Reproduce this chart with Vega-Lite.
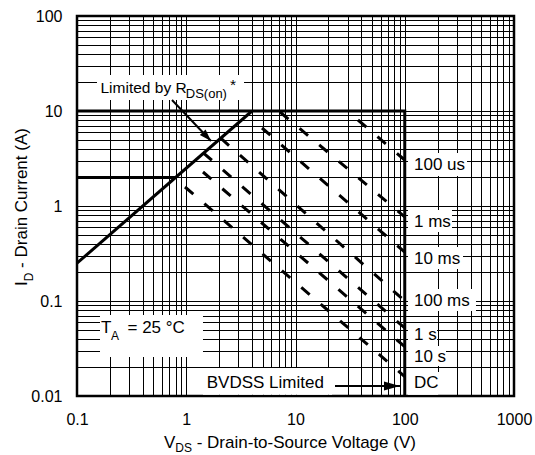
{
  "$schema": "https://vega.github.io/schema/vega-lite/v6.json",
  "width": 437,
  "height": 380,
  "autosize": {"type": "none"},
  "padding": {"left": 77, "top": 16, "right": 21, "bottom": 59},
  "background": "white",
  "config": {
    "font": "Liberation Sans",
    "view": {"stroke": "black", "strokeWidth": 2.5},
    "axis": {"grid": true, "gridColor": "#000000", "gridOpacity": 1, "gridWidth": 1, "domain": false, "ticks": false, "labelFont": "Liberation Sans", "labelFontSize": 16, "labelColor": "#000000", "labelOverlap": false, "labelFlush": false, "labelBound": false}
  },
  "datasets": {
    "boxes": [
      {"x": 0.1524, "x2": 3.379, "y": 13.06, "y2": 23.93},
      {"x": 0.1624, "x2": 1.423, "y": 0.02573, "y2": 0.07121},
      {"x": 1.423, "x2": 21.6, "y": 0.0103, "y2": 0.0197},
      {"x": 107.1, "x2": 371.3, "y": 2.069, "y2": 3.613},
      {"x": 107.1, "x2": 270.7, "y": 0.5326, "y2": 0.9078},
      {"x": 107.1, "x2": 341.4, "y": 0.2172, "y2": 0.3703},
      {"x": 107.1, "x2": 448.8, "y": 0.07847, "y2": 0.1337},
      {"x": 107.1, "x2": 197.3, "y": 0.03441, "y2": 0.05727},
      {"x": 107.1, "x2": 238.5, "y": 0.02069, "y2": 0.0336},
      {"x": 107.1, "x2": 205.8, "y": 0.0103, "y2": 0.01789}
    ],
    "bounds": [
      {"seg": "rds", "o": 1, "x": 0.1, "y": 0.25},
      {"seg": "rds", "o": 2, "x": 4, "y": 10},
      {"seg": "lim2", "o": 1, "x": 0.1, "y": 2},
      {"seg": "lim2", "o": 2, "x": 0.8, "y": 2},
      {"seg": "env", "o": 1, "x": 0.1, "y": 10},
      {"seg": "env", "o": 2, "x": 100, "y": 10},
      {"seg": "env", "o": 3, "x": 100, "y": 0.01}
    ],
    "pulses": [
      {"t": "100 us", "o": 1, "x": 37.33, "y": 8.04},
      {"t": "100 us", "o": 2, "x": 100, "y": 3.05},
      {"t": "1 ms", "o": 1, "x": 7.213, "y": 9.76},
      {"t": "1 ms", "o": 2, "x": 100, "y": 0.77},
      {"t": "10 ms", "o": 1, "x": 4.936, "y": 6.624},
      {"t": "10 ms", "o": 2, "x": 100, "y": 0.327},
      {"t": "100 ms", "o": 1, "x": 2.07, "y": 5.17},
      {"t": "100 ms", "o": 2, "x": 100, "y": 0.1},
      {"t": "1 s", "o": 1, "x": 1.44, "y": 3.61},
      {"t": "1 s", "o": 2, "x": 100, "y": 0.052},
      {"t": "10 s", "o": 1, "x": 1.423, "y": 2.28},
      {"t": "10 s", "o": 2, "x": 100, "y": 0.033},
      {"t": "DC", "o": 1, "x": 0.974, "y": 1.585},
      {"t": "DC", "o": 2, "x": 100, "y": 0.016}
    ],
    "arrows": [
      {"a": "rds", "o": 1, "x": 0.7406, "y": 13.06},
      {"a": "rds", "o": 2, "x": 1.685, "y": 4.833},
      {"a": "bv", "o": 1, "x": 22.99, "y": 0.01274},
      {"a": "bv", "o": 2, "x": 90.44, "y": 0.01274}
    ],
    "labels": [
      {"k": "m", "s": "100 us", "x": 121.5, "y": 2.393},
      {"k": "m", "s": "1 ms", "x": 121.5, "y": 0.6054},
      {"k": "m", "s": "10 ms", "x": 121.5, "y": 0.2451},
      {"k": "m", "s": "100 ms", "x": 121.5, "y": 0.08859},
      {"k": "m", "s": "1 s", "x": 121.5, "y": 0.03886},
      {"k": "m", "s": "10 s", "x": 121.5, "y": 0.02297},
      {"k": "m", "s": "DC", "x": 121.5, "y": 0.01205},
      {"k": "m", "s": "BVDSS Limited", "x": 1.539, "y": 0.01205},
      {"k": "m", "s": "T", "x": 0.1658, "y": 0.04571},
      {"k": "m", "s": "= 25 °C", "x": 0.29, "y": 0.04571},
      {"k": "m", "s": "V", "x": 0.6255, "y": 0.002836},
      {"k": "m", "s": "- Drain-to-Source Voltage (V)", "x": 1.2466, "y": 0.002836},
      {"k": "sub", "s": "A", "x": 0.2048, "y": 0.03886},
      {"k": "sub", "s": "DS", "x": 0.794, "y": 0.002573},
      {"k": "lim", "s": "Limited by R", "x": 0.1641, "y": 15.47},
      {"k": "lim", "s": "*", "x": 2.515, "y": 16.5},
      {"k": "limsub", "s": "DS(on)", "x": 0.99, "y": 13.6},
      {"k": "ym", "s": "I", "x": 0.03509, "y": 0.1438},
      {"k": "ym", "s": "- Drain Current (A)", "x": 0.03509, "y": 0.2231},
      {"k": "ysub", "s": "D", "x": 0.03958, "y": 0.1612}
    ]
  },
  "encoding": {
    "x": {
      "field": "x", "type": "quantitative", "title": null,
      "scale": {"type": "log", "domain": [0.1, 1000], "nice": false},
      "axis": {
        "values": [0.1,0.2,0.3,0.4,0.5,0.6,0.7,0.8,0.9,1,2,3,4,5,6,7,8,9,10,20,30,40,50,60,70,80,90,100,200,300,400,500,600,700,800,900,1000],
        "labelPadding": 15,
        "labelExpr": "indexof([0.1,1,10,100,1000], datum.value) >= 0 ? format(datum.value, '~g') : ''"
      }
    },
    "y": {
      "field": "y", "type": "quantitative", "title": null,
      "scale": {"type": "log", "domain": [0.01, 100], "nice": false},
      "axis": {
        "values": [0.01,0.02,0.03,0.04,0.05,0.06,0.07,0.08,0.09,0.1,0.2,0.3,0.4,0.5,0.6,0.7,0.8,0.9,1,2,3,4,5,6,7,8,9,10,20,30,40,50,60,70,80,90,100],
        "labelPadding": 15,
        "labelExpr": "indexof([0.01,0.1,1,10,100], datum.value) >= 0 ? format(datum.value, '~g') : ''"
      }
    }
  },
  "layer": [
    {"data": {"name": "boxes"}, "mark": {"type": "rect", "fill": "white", "strokeWidth": 0}, "encoding": {"x2": {"field": "x2"}, "y2": {"field": "y2"}}},
    {"data": {"name": "bounds"}, "mark": {"type": "line", "color": "black", "strokeWidth": 3, "strokeJoin": "miter", "strokeCap": "butt"}, "encoding": {"detail": {"field": "seg"}, "order": {"field": "o"}}},
    {"data": {"name": "pulses"}, "mark": {"type": "line", "color": "black", "strokeWidth": 3, "strokeDash": [11, 14.6], "strokeCap": "butt"}, "encoding": {"detail": {"field": "t"}, "order": {"field": "o"}}},
    {"data": {"name": "arrows"}, "mark": {"type": "line", "color": "black", "strokeWidth": 2}, "encoding": {"detail": {"field": "a"}, "order": {"field": "o"}}},
    {"data": {"name": "arrows"}, "transform": [{"filter": "datum.a == 'rds' && datum.o == 2"}], "mark": {"type": "point", "shape": "M0,0L-0.33,1L0.33,1Z", "filled": true, "color": "black", "opacity": 1, "size": 576, "angle": 136.4, "strokeWidth": 0}},
    {"data": {"name": "arrows"}, "transform": [{"filter": "datum.a == 'bv' && datum.o == 2"}], "mark": {"type": "point", "shape": "M0,0L-0.28,1L0.28,1Z", "filled": true, "color": "black", "opacity": 1, "size": 1024, "angle": 90, "strokeWidth": 0}},
    {"data": {"name": "labels"}, "transform": [{"filter": "datum.k == 'm'"}], "mark": {"type": "text", "align": "left", "baseline": "alphabetic", "fontSize": 17, "color": "black"}, "encoding": {"text": {"field": "s"}}},
    {"data": {"name": "labels"}, "transform": [{"filter": "datum.k == 'sub'"}], "mark": {"type": "text", "align": "left", "baseline": "alphabetic", "fontSize": 12, "color": "black"}, "encoding": {"text": {"field": "s"}}},
    {"data": {"name": "labels"}, "transform": [{"filter": "datum.k == 'lim'"}], "mark": {"type": "text", "align": "left", "baseline": "alphabetic", "fontSize": 15.5, "color": "black"}, "encoding": {"text": {"field": "s"}}},
    {"data": {"name": "labels"}, "transform": [{"filter": "datum.k == 'limsub'"}], "mark": {"type": "text", "align": "left", "baseline": "alphabetic", "fontSize": 13, "color": "black"}, "encoding": {"text": {"field": "s"}}},
    {"data": {"name": "labels"}, "transform": [{"filter": "datum.k == 'ym'"}], "mark": {"type": "text", "align": "left", "baseline": "alphabetic", "fontSize": 17, "angle": 270, "color": "black"}, "encoding": {"text": {"field": "s"}}},
    {"data": {"name": "labels"}, "transform": [{"filter": "datum.k == 'ysub'"}], "mark": {"type": "text", "align": "left", "baseline": "alphabetic", "fontSize": 12, "angle": 270, "color": "black"}, "encoding": {"text": {"field": "s"}}}
  ]
}
